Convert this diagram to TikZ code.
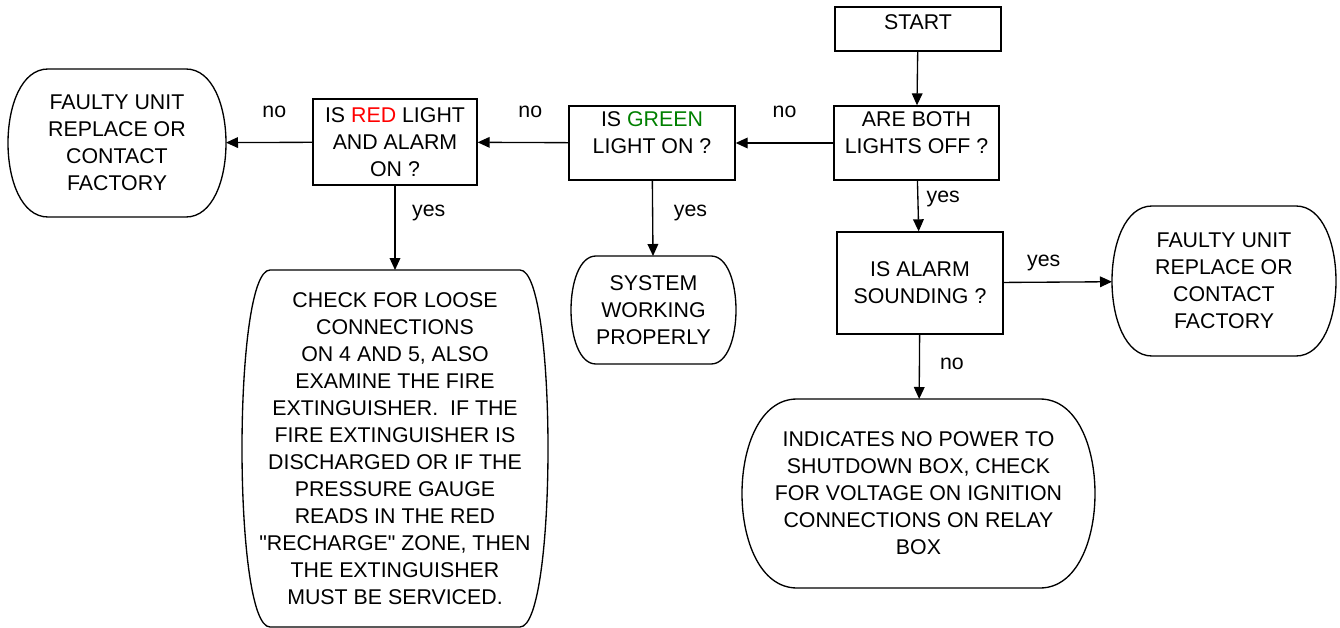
\documentclass[tikz,border=0pt]{standalone}
\usepackage{fontspec}
\setmainfont{Liberation Sans}
\usetikzlibrary{positioning,calc,arrows.meta}
\definecolor{lightred}{RGB}{255,0,0}
\definecolor{lightgreen}{RGB}{0,128,0}
\def\px{0.75pt}

\begin{document}
\begin{tikzpicture}[x=0.75pt, y=-0.75pt, line width=1pt,
    font=\fontsize{16}{20.25}\selectfont]
    \tikzstyle{box}=[draw, rectangle, align=center, inner sep=2pt]
    \tikzstyle{term}=[rectangle, align=center, inner sep=2pt, outer sep=0pt]
    \tikzstyle{txt}=[align=center, inner sep=2pt]
    \tikzstyle{arr}=[-{Triangle[length=9pt, width=8pt]}]
    \tikzstyle{lbl}=[inner sep=2pt]

    \useasboundingbox (0,0) rectangle (1340,628);

    % decision boxes
    \node[box, minimum width=166*\px, minimum height=44*\px] (start) at (918,29) {};
    \node[txt, below=3.5pt of start.north] (start-t) {START};
    \node[box, minimum width=165*\px, minimum height=74*\px] (both) at (916.5,143) {};
    \node[txt, below=2pt of both.north] (both-t) {ARE BOTH\\LIGHTS OFF ?};
    \node[box, minimum width=166*\px, minimum height=74*\px] (green) at (652,143) {};
    \node[txt, below=2pt of green.north] (green-t) {IS \textcolor{lightgreen}{GREEN}\\LIGHT ON ?};
    \node[box, minimum width=164*\px, minimum height=86*\px] (red) at (395,142)
        {IS \textcolor{lightred}{RED} LIGHT\\AND ALARM\\ON ?};
    \node[box, minimum width=166*\px, minimum height=102*\px] (alarm) at (920,283)
        {IS ALARM\\SOUNDING ?};

    % end points
    \node[term, minimum width=218*\px, minimum height=148*\px] (faultl) at (117,143)
        {FAULTY UNIT\\REPLACE OR\\CONTACT\\FACTORY};
    \node[term, minimum width=224*\px, minimum height=150*\px] (faultr) at (1224,281)
        {FAULTY UNIT\\REPLACE OR\\CONTACT\\FACTORY};
    \node[term, minimum width=165*\px, minimum height=108*\px] (system) at (653.5,310)
        {SYSTEM\\WORKING\\PROPERLY};
    \node[term, minimum width=306*\px, minimum height=357*\px] (check) at (395,448.5)
        {CHECK FOR LOOSE\\CONNECTIONS\\ON 4 AND 5, ALSO\\EXAMINE THE FIRE\\
         EXTINGUISHER.\ \ IF THE\\FIRE EXTINGUISHER IS\\DISCHARGED OR IF THE\\
         PRESSURE GAUGE\\READS IN THE RED\\\textquotedbl RECHARGE\textquotedbl\ ZONE, THEN\\
         THE EXTINGUISHER\\MUST BE SERVICED.};
    \node[term, minimum width=353*\px, minimum height=189*\px] (power) at (918.5,493.5)
        {INDICATES NO POWER TO\\SHUTDOWN BOX, CHECK\\FOR VOLTAGE ON IGNITION\\
         CONNECTIONS ON RELAY\\BOX};

    \foreach \n / \r in {faultl/40, faultr/40, system/25, check/28, power/55}
        \draw ($(\n.north west)+(\r*\px,0)$) -- ($(\n.north east)+(-\r*\px,0)$)
            .. controls ($(\n.north east)+(\r*\px/3,0)$) and ($(\n.south east)+(\r*\px/3,0)$)
            .. ($(\n.south east)+(-\r*\px,0)$) -- ($(\n.south west)+(\r*\px,0)$)
            .. controls ($(\n.south west)+(-\r*\px/3,0)$) and ($(\n.north west)+(-\r*\px/3,0)$)
            .. cycle;

    \draw[arr] (start) -- (both);
    \draw[arr] (both) -- node[lbl, above=16.4pt] {no} (green);
    \draw[arr] (green) -- node[lbl, above=16.4pt, pos=.42] {no} (red);
    \draw[arr] (red) -- node[lbl, above=16.4pt, pos=.44] {no} (faultl);
    \draw[arr] (both) -- node[lbl, right=4pt, pos=.37] {yes} (alarm);
    \draw[arr] (green) -- node[lbl, right=13.4pt, pos=.43] {yes} (system);
    \draw[arr] (red) -- node[lbl, right=10.4pt, pos=.32] {yes} (check);
    \draw[arr] (alarm) -- node[lbl, above=6pt, pos=.37] {yes} (faultr);
    \draw[arr] (alarm) -- node[lbl, right=13pt, pos=.45] {no} (power);
\end{tikzpicture}
\end{document}
